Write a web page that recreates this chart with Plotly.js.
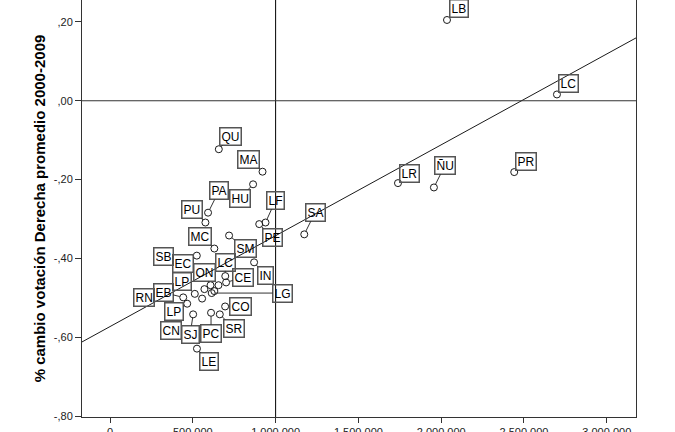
<!DOCTYPE html>
<html><head><meta charset="utf-8">
<script src="https://cdn.plot.ly/plotly-3.0.1.min.js"></script>
<style>html,body{margin:0;padding:0;background:#fff}#chart{width:675px;height:432px}</style>
</head><body><div id="chart"></div>
<script>
// Data
const municipios = ['LB','LC','LR','ÑU','PR','SA','QU','MA','HU','PA','PU','PE','LF','SM','MC','EC','SB','IN','LC','CE','ON','','LP','LG','EB','RN','CN','LP','CO','SR','PC','SJ','LE'];
const poblacion = [2035000,2699000,1739000,1956000,2441000,1173000,657000,921000,864000,592000,576000,901000,939000,719000,630000,524000,570000,870000,696000,701000,607000,655000,512000,614000,442000,556000,630000,466000,695000,663000,610000,502000,525000];
const cambioDerecha = [0.205,0.016,-0.209,-0.220,-0.181,-0.339,-0.123,-0.180,-0.212,-0.284,-0.309,-0.313,-0.309,-0.342,-0.375,-0.393,-0.478,-0.410,-0.445,-0.461,-0.468,-0.468,-0.490,-0.488,-0.499,-0.502,-0.483,-0.515,-0.522,-0.542,-0.538,-0.542,-0.629];
const ajusteIntercepto = -0.573;
const ajustePendiente = 0.2306e-6;
const refX = 1000000;
const refY = 0;
const xTickVals = [0,500000,1000000,1500000,2000000,2500000,3000000];
const xTickText = ['0','500.000','1.000.000','1.500.000','2.000.000','2.500.000','3.000.000'];
const yTickVals = [-0.8,-0.6,-0.4,-0.2,0,0.2];
const yTickText = ['-,80','-,60','-,40','-,20',',00',',20'];

// Label placement (pixel offsets from the point) – layout only
const labelOffsets = [[12,-11,1],[12,-11,1],[12,-10,1],[11,-22,1],[12,-11,1],[11,-22,1],[12,-13,1],[-14,-12,1],[-13,14,1],[11,-22,1],[-13,-13,1],[13,13,1],[10,-22,1],[16,13,1],[-14,-12,1],[-14,8,1],[-41,-33,0],[11,13,1],[0,-14,1],[17,-5,1],[-6,-13,1],null,[-13,-12,1],[71,0,1],[-20,-5,1],[-58,-1,0],[-43,39,0],[-13,8,1],[15,0,1],[14,14,1],[0,21,1],[-3,20,1],[12,13,1]];

const FONT = 'Liberation Sans, Arial, sans-serif';
const xRange = [-169300, 3176500];
const yRange = [-0.8025, 0.2557];

const fitX = [xRange[0], xRange[1]];
const fitY = fitX.map(v => ajusteIntercepto + ajustePendiente * v);

const traces = [
  {x: fitX, y: fitY, mode: 'lines', line: {color: '#1a1a1a', width: 1}, hoverinfo: 'skip'},
  {x: poblacion, y: cambioDerecha, mode: 'markers', marker: {symbol: 'circle-open', size: 7, color: '#1a1a1a', line: {width: 1}}}
];

const annotations = [];
municipios.forEach((m, i) => {
  const o = labelOffsets[i];
  if (!m || !o) return;
  const base = {x: poblacion[i], y: cambioDerecha[i], xref: 'x', yref: 'y', text: m,
    font: {family: FONT, size: 12, color: '#000'}, bordercolor: '#555', borderwidth: 1.5, borderpad: 1,
    bgcolor: 'rgba(0,0,0,0)'};
  if (o[2]) {
    Object.assign(base, {showarrow: true, ax: o[0], ay: o[1], axref: 'pixel', ayref: 'pixel', arrowhead: 0, arrowwidth: 1, arrowcolor: '#333', standoff: 3.5});
  } else {
    Object.assign(base, {showarrow: false, xshift: o[0], yshift: -o[1]});
  }
  annotations.push(base);
});

const layout = {
  width: 675, height: 432,
  margin: {l: 82, r: 39, t: 0, b: 15},
  paper_bgcolor: '#fff', plot_bgcolor: '#fff',
  showlegend: false, hovermode: false,
  xaxis: {range: xRange, tickvals: xTickVals, ticktext: xTickText, ticks: 'outside', ticklen: 5, tickcolor: '#333',
    showline: true, linecolor: '#333', linewidth: 1, zeroline: false, showgrid: false,
    tickfont: {family: FONT, size: 11, color: '#222'}},
  yaxis: {range: yRange, tickvals: yTickVals, ticktext: yTickText, ticks: 'outside', ticklen: 6, tickcolor: '#333',
    showline: true, mirror: true, linecolor: '#333', linewidth: 1, zeroline: false, showgrid: false,
    tickfont: {family: FONT, size: 11, color: '#222'},
    title: {text: '<b>% cambio votación Derecha promedio 2000-2009</b>', font: {family: FONT, size: 15, color: '#000'}, standoff: 4}},
  shapes: [
    {type: 'line', xref: 'x', yref: 'paper', x0: refX, x1: refX, y0: 0, y1: 1, line: {color: '#000', width: 1}},
    {type: 'line', xref: 'paper', yref: 'y', x0: 0, x1: 1, y0: refY, y1: refY, line: {color: '#333', width: 1}}
  ],
  annotations: annotations
};

Plotly.newPlot('chart', traces, layout, {staticPlot: true, displayModeBar: false});
</script>
</body></html>
